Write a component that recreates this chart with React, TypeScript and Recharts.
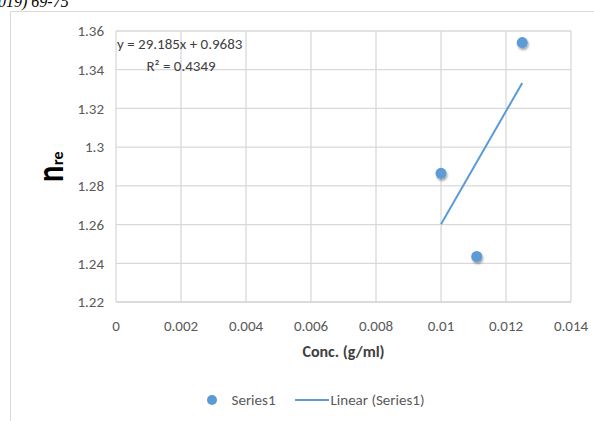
import React from "react"
import { ScatterChart, Scatter, XAxis, YAxis, CartesianGrid, Legend } from "recharts"

const xTicks = [0, 0.002, 0.004, 0.006, 0.008, 0.01, 0.012, 0.014]
const yTicks = [1.22, 1.24, 1.26, 1.28, 1.3, 1.32, 1.34, 1.36]
const concValues = [0.01, 0.0111, 0.0125]
const nreValues = [1.2865, 1.2435, 1.354]
const trendX = [0.01, 0.0125]
const trendY = [1.2602, 1.3331]
const equationText = "y = 29.185x + 0.9683"
const rSquaredText = "R\u00B2 = 0.4349"
const seriesName = "Series1"
const trendName = "Linear (Series1)"

const points = concValues.map((x, i) => ({ x, y: nreValues[i] }))
const trend = trendX.map((x, i) => ({ x, y: trendY[i] }))

const FONT = "Carlito, 'Liberation Sans Narrow', 'Open Sans', sans-serif"
const BLUE = "#5B9BD5"
const GRID = "#D9D9D9"
const TEXT = "#595959"

const Dot = (props: any) => {
  const { cx, cy } = props
  if (cx == null || cy == null) return null
  return <circle cx={cx} cy={cy} r={5.5} fill={BLUE} filter="url(#dotShadow)" />
}

const LegendContent = () => (
  <div style={{ display: "flex", justifyContent: "center", alignItems: "center", fontFamily: FONT, fontSize: 15, color: TEXT }}>
    <svg width={12} height={12} style={{ marginRight: 14 }}>
      <circle cx={6} cy={6} r={5} fill={BLUE} />
    </svg>
    <span style={{ marginRight: 19 }}>{seriesName}</span>
    <svg width={34} height={4} style={{ marginRight: 2 }}>
      <line x1={0} y1={2} x2={34} y2={2} stroke={BLUE} strokeWidth={2} />
    </svg>
    <span>{trendName}</span>
  </div>
)

export default function App() {
  return (
    <div style={{ position: "fixed", left: 0, top: 0, width: 594, height: 421, background: "#fff", overflow: "hidden" }}>
      <svg width={594} height={421} style={{ position: "absolute", left: 0, top: 0 }}>
        <defs>
          <filter id="dotShadow" x="-50%" y="-50%" width="200%" height="200%">
            <feDropShadow dx={1} dy={2} stdDeviation={1.3} floodColor="#000" floodOpacity={0.35} />
          </filter>
        </defs>
        <text x={-2} y={7} fontFamily="'Liberation Serif', serif" fontStyle="italic" fontSize={16} fill="#000">
          019) 69-75
        </text>
        <line x1={10.5} y1={11.5} x2={600} y2={11.5} stroke={GRID} />
        <line x1={10.5} y1={11.5} x2={10.5} y2={430} stroke={GRID} />
      </svg>
      <div style={{ position: "absolute", left: 0, top: 0 }}>
        <ScatterChart width={594} height={421} margin={{ top: 31, right: 23, left: 56, bottom: 89 }}>
          <CartesianGrid stroke={GRID} strokeWidth={1.3} />
          <XAxis
            type="number"
            dataKey="x"
            domain={[0, 0.014]}
            ticks={xTicks}
            height={30}
            tickLine={false}
            axisLine={{ stroke: GRID, strokeWidth: 1.3 }}
            tickMargin={12}
            tick={{ fill: TEXT, fontSize: 15, fontFamily: FONT }}
            label={{ value: "Conc. (g/ml)", position: "insideBottom", offset: -25, fill: "#404040", fontSize: 16, fontWeight: 700, fontFamily: FONT }}
          />
          <YAxis
            type="number"
            dataKey="y"
            domain={[1.22, 1.36]}
            ticks={yTicks}
            width={60}
            tickLine={false}
            axisLine={false}
            tickMargin={6}
            tick={{ fill: TEXT, fontSize: 15, fontFamily: FONT }}
          />
          <Scatter name={seriesName} data={points} shape={Dot} isAnimationActive={false} />
          <Scatter
            name={trendName}
            data={trend}
            line={{ stroke: BLUE, strokeWidth: 2 }}
            shape={() => null}
            isAnimationActive={false}
          />
          <Legend
            layout="vertical"
            verticalAlign="middle"
            align="center"
            content={LegendContent}
            wrapperStyle={{ top: 391, left: 18, width: 594 }}
          />
        </ScatterChart>
      </div>
      <svg width={594} height={421} style={{ position: "absolute", left: 0, top: 0, pointerEvents: "none" }}>
        <text x={117} y={49} fontFamily={FONT} fontSize={15} fill="#404040">{equationText}</text>
        <text x={181} y={71} textAnchor="middle" fontFamily={FONT} fontSize={15} fill="#404040">{rSquaredText}</text>
        <text transform="translate(63,182) rotate(-90) scale(0.8,1)" fontFamily={FONT} fontSize={38} fontWeight={700} fill="#000">n</text>
        <text transform="translate(63,165) rotate(-90)" fontFamily={FONT} fontSize={16} fontWeight={700} fill="#000">re</text>
      </svg>
    </div>
  )
}
